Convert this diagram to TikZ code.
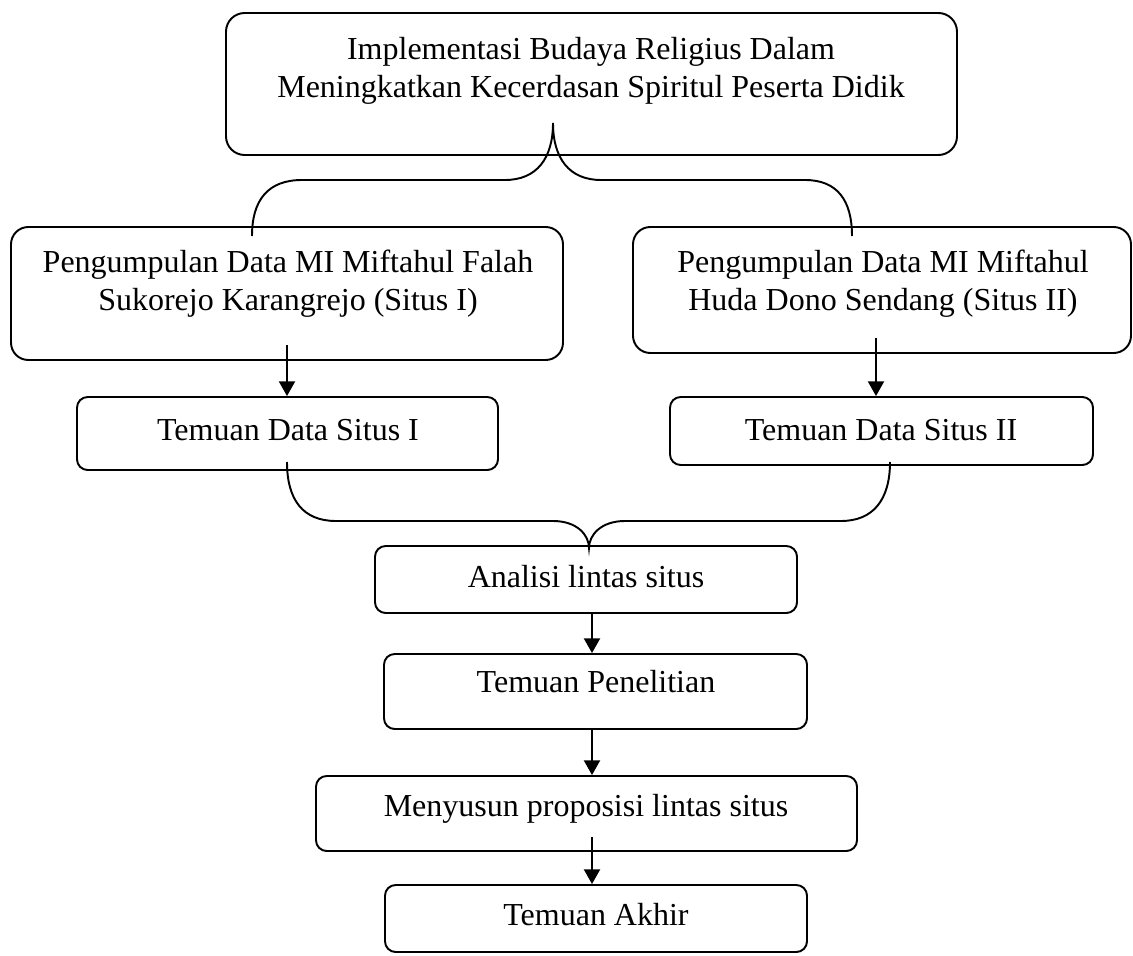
\documentclass[tikz,border=0pt]{standalone}
\usepackage{fontspec}
\setmainfont{Liberation Serif}
\usetikzlibrary{arrows.meta,fit}
\begin{document}
\begin{tikzpicture}[x=0.75pt,y=-0.75pt,
  box/.style={draw, line width=1.45pt, rounded corners=#1, inner sep=0pt},
  box/.default=8pt,
  txt/.style={font=\fontsize{24}{28.5}\selectfont, inner sep=0pt, anchor=base},
  arr/.style={line width=1.45pt, -{Triangle[width=12pt,length=11pt]}},
  brace/.style={line width=1.45pt}]
\useasboundingbox (0,0) rectangle (1133,956);

% boxes
\node[box=14pt, fit={(226,13) (957,155)}] (top) {};
\node[box=13pt, fit={(11,227) (563,360)}] (lb) {};
\node[box=13pt, fit={(633,227) (1131,353)}] (rb) {};
\node[box, fit={(77,397) (498,470)}] (t1) {};
\node[box, fit={(670,397) (1093,465)}] (t2) {};
\node[box, fit={(375,546) (797,613)}] (an) {};
\node[box, fit={(384,654) (807,729)}] (pen) {};
\node[box, fit={(316,776) (857,851)}] (mny) {};
\node[box, fit={(385,885) (807,952)}] (akh) {};

% texts
\node[txt] (top1) at (591,60) {Implementasi Budaya Religius Dalam};
\node[txt] (top2) at (591,98) {Meningkatkan Kecerdasan Spiritul Peserta Didik};
\node[txt] (lb1) at (288,272) {Pengumpulan Data MI Miftahul Falah};
\node[txt] (lb2) at (288,310) {Sukorejo Karangrejo (Situs I)};
\node[txt] (rb1) at (883,272) {Pengumpulan Data MI Miftahul};
\node[txt] (rb2) at (883,310) {Huda Dono Sendang (Situs II)};
\node[txt] (t1t) at (288,440) {Temuan Data Situs I};
\node[txt] (t2t) at (881,440) {Temuan Data Situs II};
\node[txt] (ant) at (586,587) {Analisi lintas situs};
\node[txt] (pent) at (596,692) {Temuan Penelitian};
\node[txt] (mnyt) at (586,816) {Menyusun proposisi lintas situs};
\node[txt] (akht) at (596,925) {Temuan Akhir};

% top brace
\coordinate (tb) at (553,123);
\coordinate (tbl) at (252,236);
\coordinate (tbr) at (852,236);
\draw[brace] (tbl) .. controls (252,200) and (268,180) .. (302,180) -- (505,180)
  .. controls (537,180) and (553,158) .. (tb)
  .. controls (553,158) and (569,180) .. (601,180) -- (805,180)
  .. controls (837,180) and (852,200) .. (tbr);

% bottom brace
\coordinate (bb) at (589,548);
\coordinate (bbl) at (287,462);
\coordinate (bbr) at (890,462);
\draw[brace] (bbl) .. controls (287,500) and (303,521) .. (336,521) -- (553,521)
  .. controls (577,521) and (589,535) .. (bb)
  .. controls (589,535) and (601,521) .. (625,521) -- (841,521)
  .. controls (873,521) and (890,500) .. (bbr);

% arrows
\coordinate (a1) at (287,345);
\coordinate (a2) at (876,338);
\coordinate (a3) at (592,613);
\coordinate (a4) at (592,729);
\coordinate (a5) at (592,837);
\draw[arr] (a1) -- (a1 |- t1.north);
\draw[arr] (a2) -- (a2 |- t2.north);
\draw[arr] (a3) -- (a3 |- pen.north);
\draw[arr] (a4) -- (a4 |- mny.north);
\draw[arr] (a5) -- (a5 |- akh.north);
\end{tikzpicture}
\end{document}
